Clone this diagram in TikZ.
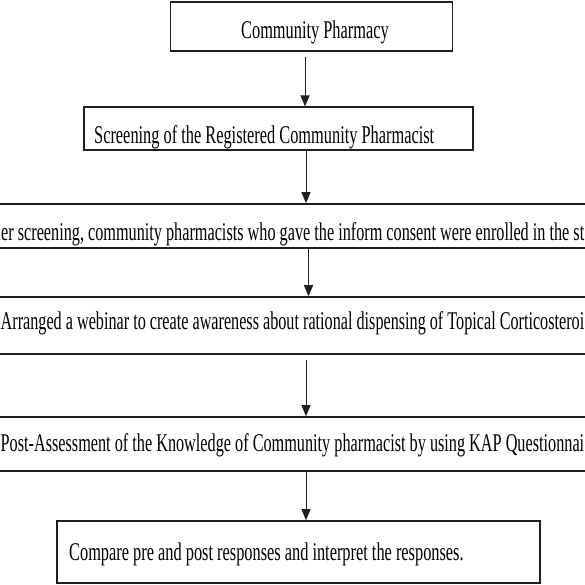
\documentclass[tikz,border=0pt]{standalone}
\usepackage{fontspec}
\setmainfont{Liberation Serif}
\usepackage{graphicx}
\usetikzlibrary{arrows.meta}
\newcommand{\tx}[1]{\scalebox{0.641}[1]{#1}}
\newcommand{\fitto}[2]{\resizebox{#1}{\height}{#2}}
\begin{document}
\begin{tikzpicture}[x=1pt,y=-1pt,
  box/.style={draw=black!88, line width=1.6pt, inner sep=0pt, rectangle},
  thinbox/.style={box, line width=1.1pt},
  txt/.style={inner sep=0pt, anchor=base west, font=\fontsize{25.5pt}{30pt}\selectfont, text=black},
  arr/.style={draw=black!88, line width=1pt, -{Triangle[width=9pt,length=11pt]}}]
\useasboundingbox (0,0) rectangle (585,585);
\clip (0,0) rectangle (585,585);
\fill[white] (0,0) rectangle (585,585);
% boxes
\node[box, minimum width=282pt, minimum height=49pt] (b1) at (311.5,26.5) {};
\node[thinbox, minimum width=389pt, minimum height=43pt] (b2) at (278.5,128.5) {};
\node[box, minimum width=605pt, minimum height=44pt] (b3) at (292.5,226) {};
\node[box, minimum width=605pt, minimum height=57pt] (b4) at (292.5,325.5) {};
\node[box, minimum width=605pt, minimum height=54pt] (b5) at (292.5,444) {};
\node[box, minimum width=483pt, minimum height=62pt] (b6) at (298.5,552) {};
% texts
\node[txt] (t1) at (241,38.5) {\tx{Community Pharmacy}};
\node[txt] (t2) at (94,144) {\tx{Screening of the Registered Community Pharmacist}};
\node[txt] (t3) at (1,240) {\fitto{583pt}{er screening, community pharmacists who gave the inform consent were enrolled in the st}};
\node[txt] (t4) at (0.5,329.5) {\fitto{583.5pt}{Arranged a webinar to create awareness about rational dispensing of Topical Corticosteroi}};
\node[txt] (t5) at (0.5,451) {\fitto{583.5pt}{Post-Assessment of the Knowledge of Community pharmacist by using KAP Questionnai}};
\node[txt] (t6) at (69,560) {\tx{Compare pre and post responses and interpret the responses.}};
% connectors
\coordinate (c1) at (305,57);
\coordinate (c2) at (306,0);
\coordinate (c3) at (308.5,0);
\coordinate (c4) at (306,360);
\coordinate (c5) at (306,0);
\draw[arr] (c1) -- (c1 |- b2.north);
\draw[arr] (c2 |- b2.south) -- (c2 |- b3.north);
\draw[arr] (c3 |- b3.south) -- (c3 |- b4.north);
\draw[arr] (c4) -- (c4 |- b5.north);
\draw[arr] (c5 |- b5.south) -- (c5 |- b6.north);
\end{tikzpicture}
\end{document}
